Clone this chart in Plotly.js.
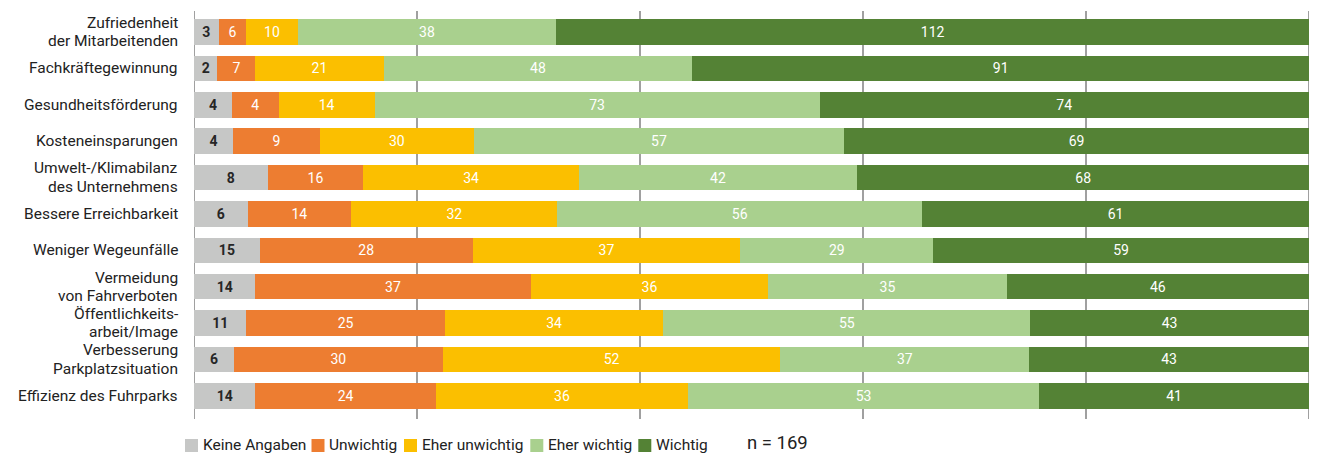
<!DOCTYPE html>
<html>
<head>
<meta charset="utf-8">
<script src="https://cdn.plot.ly/plotly-3.0.1.min.js"></script>
<style>html,body{margin:0;padding:0;background:#fff;}#chart{width:1318px;height:454px;}</style>
</head>
<body>
<div id="chart"></div>
<script>
// ---- Data ----
var categories = [
  "Zufriedenheit<br>der Mitarbeitenden",
  "Fachkräftegewinnung",
  "Gesundheitsförderung",
  "Kosteneinsparungen",
  "Umwelt-/Klimabilanz<br>des Unternehmens",
  "Bessere Erreichbarkeit",
  "Weniger Wegeunfälle",
  "Vermeidung<br>von Fahrverboten",
  "Öffentlichkeits-<br>arbeit/Image",
  "Verbesserung<br>Parkplatzsituation",
  "Effizienz des Fuhrparks"
];
var seriesNames = ["Keine Angaben", "Unwichtig", "Eher unwichtig", "Eher wichtig", "Wichtig"];

// counts shown as labels
var countKeine      = [3, 2, 4, 4, 8, 6, 15, 14, 11, 6, 14];
var countUnwichtig  = [6, 7, 4, 9, 16, 14, 28, 37, 25, 30, 24];
var countEherUnw    = [10, 21, 14, 30, 34, 32, 37, 36, 34, 52, 36];
var countEherWicht  = [38, 48, 73, 57, 42, 56, 29, 35, 55, 37, 53];
var countWichtig    = [112, 91, 74, 69, 68, 61, 59, 46, 43, 43, 41];

// bar lengths (share in %, as drawn)
var pctKeine     = [2.2, 2.1, 3.4, 3.5, 6.6, 4.8, 5.9, 5.5, 4.7, 3.6, 5.5];
var pctUnwichtig = [2.5, 3.4, 4.2, 7.8, 8.6, 9.3, 19.1, 24.7, 17.8, 18.7, 16.2];
var pctEherUnw   = [4.6, 11.5, 8.6, 13.8, 19.3, 18.5, 24.0, 21.3, 19.6, 30.3, 22.6];
var pctEherWicht = [23.2, 27.7, 39.9, 33.2, 25.0, 32.7, 17.3, 21.4, 32.9, 22.3, 31.5];
var pctWichtig   = [67.5, 55.3, 43.9, 41.7, 40.5, 34.7, 33.7, 27.1, 25.0, 25.1, 24.2];

var nLabel = "n = 169";
var gridTicks = [0, 20, 40, 60, 80, 100];

// ---- Styling ----
var colors = ["#c6c7c6", "#ed7d31", "#fbbf00", "#a9d08e", "#548235"];
var labelColors = ["#262626", "#ffffff", "#ffffff", "#ffffff", "#ffffff"];
var FONT = "Roboto, 'Liberation Sans', sans-serif";

var pcts = [pctKeine, pctUnwichtig, pctEherUnw, pctEherWicht, pctWichtig];
var counts = [countKeine, countUnwichtig, countEherUnw, countEherWicht, countWichtig];

var traces = seriesNames.map(function (name, i) {
  return {
    type: "bar",
    orientation: "h",
    name: name,
    y: categories,
    x: pcts[i],
    text: counts[i].map(String),
    textposition: "inside",
    insidetextanchor: "middle",
    textangle: 0,
    textfont: {family: FONT, size: 14, color: labelColors[i], weight: i === 0 ? 700 : 400},
    marker: {color: colors[i], line: {width: 0}},
    hoverinfo: "none",
    showlegend: false
  };
});

// geometry helpers (pixel -> paper)
var L = 194, T = 13, W = 1115, H = 401;
function px2x(px) { return (px - L) / W; }
function px2y(py) { return (T + H - py) / H; }

var shapes = [];
gridTicks.forEach(function (t) {
  shapes.push({
    type: "line", xref: "x", yref: "paper",
    x0: t, x1: t, y0: px2y(419), y1: px2y(11),
    line: {color: "#a0a0a0", width: 2}, layer: "below"
  });
});

var annotations = [];
// category labels (tight line spacing)
categories.forEach(function (c) {
  var lines = c.split("<br>");
  var lh = 18.2;
  lines.forEach(function (ln, j) {
    annotations.push({
      xref: "paper", yref: "y", x: 0, y: c, xanchor: "right", yanchor: "middle",
      xshift: -15, yshift: ((lines.length - 1) / 2 - j) * lh,
      text: ln, showarrow: false, borderpad: 0,
      font: {family: FONT, size: 15.5, color: "#222222"}
    });
  });
});

// custom legend
var legSquareX = [185, 311.5, 404, 530.3, 638.3];
seriesNames.forEach(function (name, i) {
  shapes.push({
    type: "rect", xref: "paper", yref: "paper",
    x0: px2x(legSquareX[i]), x1: px2x(legSquareX[i] + 13),
    y0: px2y(452), y1: px2y(439),
    fillcolor: colors[i], line: {width: 0}
  });
  annotations.push({
    xref: "paper", yref: "paper", x: px2x(legSquareX[i] + 16.5), y: px2y(444.5),
    xanchor: "left", yanchor: "middle", text: name, showarrow: false, borderpad: 0,
    font: {family: FONT, size: 15.5, color: "#222222"}
  });
});
annotations.push({
  xref: "paper", yref: "paper", x: px2x(746), y: px2y(442.5),
  xanchor: "left", yanchor: "middle", text: nLabel, showarrow: false, borderpad: 0,
  font: {family: FONT, size: 18.5, color: "#222222"}
});

var layout = {
  width: 1318, height: 454,
  margin: {l: L, r: 1318 - L - W, t: T, b: 454 - T - H, pad: 0},
  paper_bgcolor: "#ffffff", plot_bgcolor: "#ffffff",
  barmode: "stack", bargap: 0.30,
  showlegend: false,
  xaxis: {range: [0, 100], showgrid: false, zeroline: false, showticklabels: false, showline: false, fixedrange: true},
  yaxis: {type: "category", autorange: "reversed", showgrid: false, zeroline: false, showticklabels: false, showline: false, fixedrange: true},
  uniformtext: {mode: "show", minsize: 14},
  shapes: shapes,
  annotations: annotations,
  font: {family: FONT}
};

Plotly.newPlot("chart", traces, layout, {staticPlot: true, displayModeBar: false});
</script>
</body>
</html>
